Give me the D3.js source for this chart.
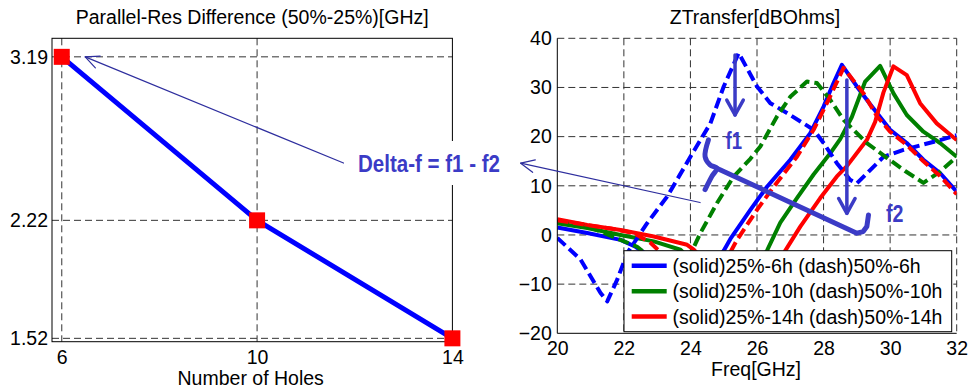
<!DOCTYPE html>
<html>
<head>
<meta charset="utf-8">
<script src="https://cdn.jsdelivr.net/npm/d3@7"></script>
<style>
  html, body { margin: 0; padding: 0; background: #fff; }
  svg { display: block; }
  text { font-family: "Liberation Sans", Arial, Helvetica, sans-serif; }
</style>
</head>
<body>
<svg id="fig" width="971" height="388"></svg>
<script>
// ---- left panel: resonance shift vs hole count ----
const holes = [6, 10, 14];
const deltaF = [3.19, 2.22, 1.52];
const holeTicks = [6, 10, 14];
const deltaTicks = [1.52, 2.22, 3.19];

// ---- right panel: transfer impedance sweeps [GHz, dBOhm] ----
const freqTicks = [20, 22, 24, 26, 28, 30, 32];
const zTicks = [-20, -10, 0, 10, 20, 30, 40];

const z25_6h = [[20,1.5],[20.9,0.4],[21.9,-1],[22.35,-2.4],[22.8,-4.5],[23.5,-9],[24.2,-10],[24.6,-7],
  [25.0,-3.2],[25.2,-0.8],[25.8,5.1],[26.3,9.8],[27.0,15.3],[27.6,20.7],[28.0,26.1],[28.3,30.9],[28.55,34.6],
  [29.0,30.2],[29.4,26.6],[30.0,21.4],[30.5,18.7],[31.0,15.3],[31.5,12.6],[32,8.8]];
const z25_10h = [[20,2.4],[20.9,1.4],[21.9,0.0],[22.9,-1.3],[23.7,-3],[24.3,-7],[25.0,-11],[25.7,-8],
  [26.3,-3.2],[26.7,2.5],[27.2,7.5],[27.7,12.3],[28.2,16.6],[28.5,19.5],[28.85,24],[29.25,31.2],[29.7,34.4],
  [30.1,28.8],[30.5,24.4],[31.0,21],[31.5,18.7],[32,15.9]];
const z25_14h = [[20,3.2],[20.9,2.05],[21.9,1.0],[22.9,-0.3],[23.9,-2],[24.1,-3],[24.8,-8],[25.6,-12],
  [26.3,-9],[26.85,-3.2],[27.3,1.7],[27.9,7.5],[28.4,11.9],[28.7,14],[29.3,19.3],[29.55,23],[29.8,29],
  [30.1,34.3],[30.5,32.5],[30.9,26.8],[31.4,22.7],[32,19.3]];
const z50_6h = [[20,-0.6],[20.7,-5],[21.3,-11.8],[21.5,-13.5],[21.8,-9.1],[22.1,-3.7],[22.7,2.4],[23.3,7.8],
  [24.0,15.9],[24.6,22.7],[25.0,30.2],[25.45,37],[26.0,30.2],[26.4,26.8],[26.9,24.8],[27.7,21.4],[28.0,18.7],
  [28.4,14.6],[28.8,11.2],[29.0,10.5],[29.4,13.2],[29.8,15.9],[30.4,17.3],[31.5,19.3],[32,20.3]];
const z50_10h = [[20,2.6],[20.9,1.8],[21.4,0.4],[21.9,-1],[22.4,-2.4],[22.6,-3.5],[23.2,-7],[23.7,-6],
  [24.05,-3.2],[24.3,0.4],[24.8,6.5],[25.3,11.9],[25.8,15.5],[26.1,18],[26.6,24.1],[27.0,28.1],[27.5,31.2],
  [27.8,30.9],[28.2,27.5],[28.6,23.4],[29.3,18.7],[29.9,15.7],[30.45,13],[31.0,10.6],[31.5,12.9],[32,15.9]];
const z50_14h = [[20,3.0],[20.9,2.0],[21.6,1.3],[22.3,0.4],[22.8,-1.6],[23.1,-3.5],[23.8,-8],[24.5,-10],
  [25.0,-6],[25.4,-1],[26.0,5.1],[26.5,9.8],[27.2,15.9],[27.7,21.4],[28.1,26.8],[28.6,34],[29.2,28.8],
  [29.6,24.2],[30.0,21],[30.5,18.3],[31.0,15],[31.5,12],[32,8.3]];

const legendLabels = [
  "(solid)25%-6h (dash)50%-6h",
  "(solid)25%-10h (dash)50%-10h",
  "(solid)25%-14h (dash)50%-14h"
];
const seriesColors = ["#0000ff", "#008000", "#ff0000"];

const svg = d3.select("#fig");
const FONT = 19.5;
const gridStyle = sel => sel.attr("stroke", "#333").attr("stroke-width", 1)
  .attr("stroke-dasharray", "7,4").attr("fill", "none");

// ================= left panel =================
const L = { x0: 52, x1: 452.4, y0: 38.3, y1: 341.7 };
const lx = d3.scaleLinear().domain([5.8, 14]).range([L.x0, L.x1]);
const ly = d3.scaleLinear().domain([1.5, 3.3]).range([L.y1, L.y0]);
const gl = svg.append("g");

gl.append("g").selectAll("line").data(holeTicks.filter(t => t < 14)).join("line")
  .attr("x1", d => lx(d)).attr("x2", d => lx(d)).attr("y1", L.y0).attr("y2", L.y1).call(gridStyle);
gl.append("g").selectAll("line").data(deltaTicks).join("line")
  .attr("x1", L.x0).attr("x2", L.x1).attr("y1", d => ly(d)).attr("y2", d => ly(d)).call(gridStyle);

gl.append("rect").attr("x", L.x0).attr("y", L.y0).attr("width", L.x1 - L.x0).attr("height", L.y1 - L.y0)
  .attr("fill", "none").attr("stroke", "#000").attr("stroke-width", 1);

gl.append("g").attr("transform", `translate(${L.x0},0)`)
  .call(d3.axisLeft(ly).tickValues(deltaTicks).tickFormat(d3.format(".2f")).tickSize(0).tickPadding(4))
  .call(g => g.select(".domain").remove())
  .selectAll("text").attr("font-size", FONT).attr("fill", "#000").attr("font-family", null);
gl.append("g").attr("transform", `translate(0,${L.y1})`)
  .call(d3.axisBottom(lx).tickValues(holeTicks).tickFormat(d3.format("d")).tickSize(0).tickPadding(8))
  .call(g => g.select(".domain").remove())
  .selectAll("text").attr("font-size", FONT).attr("fill", "#000").attr("font-family", null);

const holeData = holes.map((h, i) => [h, deltaF[i]]);
gl.append("path").datum(holeData)
  .attr("d", d3.line().x(d => lx(d[0])).y(d => ly(d[1])))
  .attr("fill", "none").attr("stroke", "#0000ff").attr("stroke-width", 5).attr("stroke-linejoin", "round");
const MS = 16;
gl.append("g").selectAll("rect").data(holeData).join("rect")
  .attr("x", d => lx(d[0]) - MS / 2).attr("y", d => ly(d[1]) - MS / 2)
  .attr("width", MS).attr("height", MS).attr("fill", "#ff0000");

gl.append("text").attr("x", (L.x0 + L.x1) / 2).attr("y", 24).attr("text-anchor", "middle")
  .attr("font-size", FONT).text("Parallel-Res Difference (50%-25%)[GHz]");
gl.append("text").attr("x", (L.x0 + L.x1) / 2 - 1.5).attr("y", 385).attr("text-anchor", "middle")
  .attr("font-size", FONT).text("Number of Holes");

// ================= right panel =================
const R = { x0: 557.3, x1: 956.7, y0: 38.3, y1: 333.3 };
const rx = d3.scaleLinear().domain([20, 32]).range([R.x0, R.x1]);
const ry = d3.scaleLinear().domain([-20, 40]).range([R.y1, R.y0]);
const gr = svg.append("g");

gr.append("g").selectAll("line").data(freqTicks.filter(t => t > 20)).join("line")
  .attr("x1", d => rx(d)).attr("x2", d => rx(d)).attr("y1", R.y0).attr("y2", R.y1).call(gridStyle);
gr.append("g").selectAll("line").data(zTicks.filter(t => t > -20)).join("line")
  .attr("x1", R.x0).attr("x2", R.x1).attr("y1", d => ry(d)).attr("y2", d => ry(d)).call(gridStyle);

gr.append("defs").append("clipPath").attr("id", "rclip").append("rect")
  .attr("x", R.x0).attr("y", R.y0).attr("width", R.x1 - R.x0).attr("height", R.y1 - R.y0);

const zline = d3.line().x(d => rx(d[0])).y(d => ry(d[1]));
const curves = [
  { data: z25_6h, color: seriesColors[0], dash: null },
  { data: z25_10h, color: seriesColors[1], dash: null },
  { data: z25_14h, color: seriesColors[2], dash: null },
  { data: z50_6h, color: seriesColors[0], dash: "11,5" },
  { data: z50_10h, color: seriesColors[1], dash: "11,5" },
  { data: z50_14h, color: seriesColors[2], dash: "11,5" }
];
gr.append("g").attr("clip-path", "url(#rclip)").selectAll("path").data(curves).join("path")
  .attr("d", d => zline(d.data)).attr("fill", "none").attr("stroke", d => d.color)
  .attr("stroke-width", 4).attr("stroke-dasharray", d => d.dash).attr("stroke-linejoin", "round");

// axis lines: left and bottom only
gr.append("line").attr("x1", R.x0).attr("x2", R.x0).attr("y1", R.y0).attr("y2", R.y1).attr("stroke", "#000");
gr.append("line").attr("x1", R.x0).attr("x2", R.x1).attr("y1", R.y1).attr("y2", R.y1).attr("stroke", "#000");

gr.append("g").attr("transform", `translate(${R.x0},0)`)
  .call(d3.axisLeft(ry).tickValues(zTicks).tickFormat(d3.format("d")).tickSize(0).tickPadding(5.5))
  .call(g => g.select(".domain").remove())
  .selectAll("text").attr("font-size", FONT).attr("fill", "#000").attr("font-family", null);
gr.append("g").attr("transform", `translate(0,${R.y1})`)
  .call(d3.axisBottom(rx).tickValues(freqTicks).tickFormat(d3.format("d")).tickSize(0).tickPadding(8))
  .call(g => g.select(".domain").remove())
  .selectAll("text").attr("font-size", FONT).attr("fill", "#000").attr("font-family", null);

gr.append("text").attr("x", (R.x0 + R.x1) / 2 - 2).attr("y", 23.5).attr("text-anchor", "middle")
  .attr("font-size", FONT).text("ZTransfer[dBOhms]");
gr.append("text").attr("x", (R.x0 + R.x1) / 2 - 1).attr("y", 376).attr("text-anchor", "middle")
  .attr("font-size", FONT).text("Freq[GHz]");

// legend
const lg = gr.append("g");
lg.append("rect").attr("x", 624).attr("y", 250.7).attr("width", 327.7).attr("height", 81)
  .attr("fill", "#fff").attr("stroke", "#000").attr("stroke-width", 1);
const rowY = [265.8, 291.2, 316.6];
legendLabels.forEach((t, i) => {
  lg.append("line").attr("x1", 631.7).attr("x2", 666.7).attr("y1", rowY[i]).attr("y2", rowY[i])
    .attr("stroke", seriesColors[i]).attr("stroke-width", 4.5);
  lg.append("text").attr("x", 672.5).attr("y", rowY[i] + 7).attr("font-size", FONT).text(t);
});

// ================= annotations =================
const ANN = "#3b3bc6", THIN = "#2e2e9e";
const ag = svg.append("g");

function vHead(g, tip, from, len, ang, color, w) {
  const a = Math.atan2(from[1] - tip[1], from[0] - tip[0]);
  const p1 = [tip[0] + len * Math.cos(a + ang), tip[1] + len * Math.sin(a + ang)];
  const p2 = [tip[0] + len * Math.cos(a - ang), tip[1] + len * Math.sin(a - ang)];
  g.append("path").attr("d", `M${p1}L${tip}L${p2}`).attr("fill", "none")
    .attr("stroke", color).attr("stroke-width", w).attr("stroke-linecap", "round").attr("stroke-linejoin", "round");
}
function arrow(g, from, tip, len, ang, color, w) {
  g.append("line").attr("x1", from[0]).attr("y1", from[1]).attr("x2", tip[0]).attr("y2", tip[1])
    .attr("stroke", color).attr("stroke-width", w).attr("stroke-linecap", "round");
  vHead(g, tip, from, len, ang, color, w);
}

// thin arrows from the label to each panel
arrow(ag, [lx(11.77), ly(2.56)], [lx(6.48), ly(3.19)], 15, 25 * Math.PI / 180, THIN, 1.2);
arrow(ag, [rx(24.29), ry(6.6)], [rx(18.9), ry(14.6)], 15, 25 * Math.PI / 180, THIN, 1.2);

// label with white backing
ag.append("rect").attr("x", 351).attr("y", 141).attr("width", 158).attr("height", 44).attr("fill", "#fff");
ag.append("text").attr("x", 358).attr("y", 171.5).attr("fill", ANN)
  .attr("font-family", "'Liberation Sans Narrow', 'Arial Narrow', 'Liberation Sans', Arial, sans-serif")
  .attr("font-weight", "bold").attr("font-size", 23.5)
  .attr("textLength", 142).attr("lengthAdjust", "spacingAndGlyphs")
  .text("Delta-f  = f1 - f2");

// f1 / f2 markers
arrow(ag, [rx(25.34), ry(36.6)], [rx(25.34), ry(24.4)], 17, 29 * Math.PI / 180, ANN, 3.5);
arrow(ag, [rx(28.7), ry(31.5)], [rx(28.7), ry(4.4)], 17, 29 * Math.PI / 180, ANN, 3.5);

const narrowBold = sel => sel.attr("fill", ANN)
  .attr("font-family", "'Liberation Sans Narrow', 'Arial Narrow', 'Liberation Sans', Arial, sans-serif")
  .attr("font-weight", "bold").attr("font-size", 23.5);
ag.append("text").attr("x", 725.5).attr("y", 148.5).call(narrowBold)
  .attr("textLength", 16.5).attr("lengthAdjust", "spacingAndGlyphs").text("f1");
ag.append("text").attr("x", 886).attr("y", 222).call(narrowBold)
  .attr("textLength", 17.5).attr("lengthAdjust", "spacingAndGlyphs").text("f2");

// bracket linking the two resonances
const bracePts = [[24.54, 19.33], [24.44, 15.93], [24.59, 14.24], [24.79, 13.58], [24.64, 11.87], [24.44, 9.23]];
const barPts = [[24.79, 13.58], [29.0, 0.37], [29.19, 0.69], [29.30, 1.71], [29.35, 4.08]];
const aline = d3.line().x(d => rx(d[0])).y(d => ry(d[1])).curve(d3.curveCatmullRom);
ag.append("path").attr("d", aline(bracePts)).attr("fill", "none").attr("stroke", ANN)
  .attr("stroke-width", 5).attr("stroke-linecap", "round").attr("stroke-linejoin", "round");
ag.append("path").attr("d", d3.line().x(d => rx(d[0])).y(d => ry(d[1]))(barPts)).attr("fill", "none")
  .attr("stroke", ANN).attr("stroke-width", 5).attr("stroke-linecap", "round").attr("stroke-linejoin", "round");
</script>
</body>
</html>
